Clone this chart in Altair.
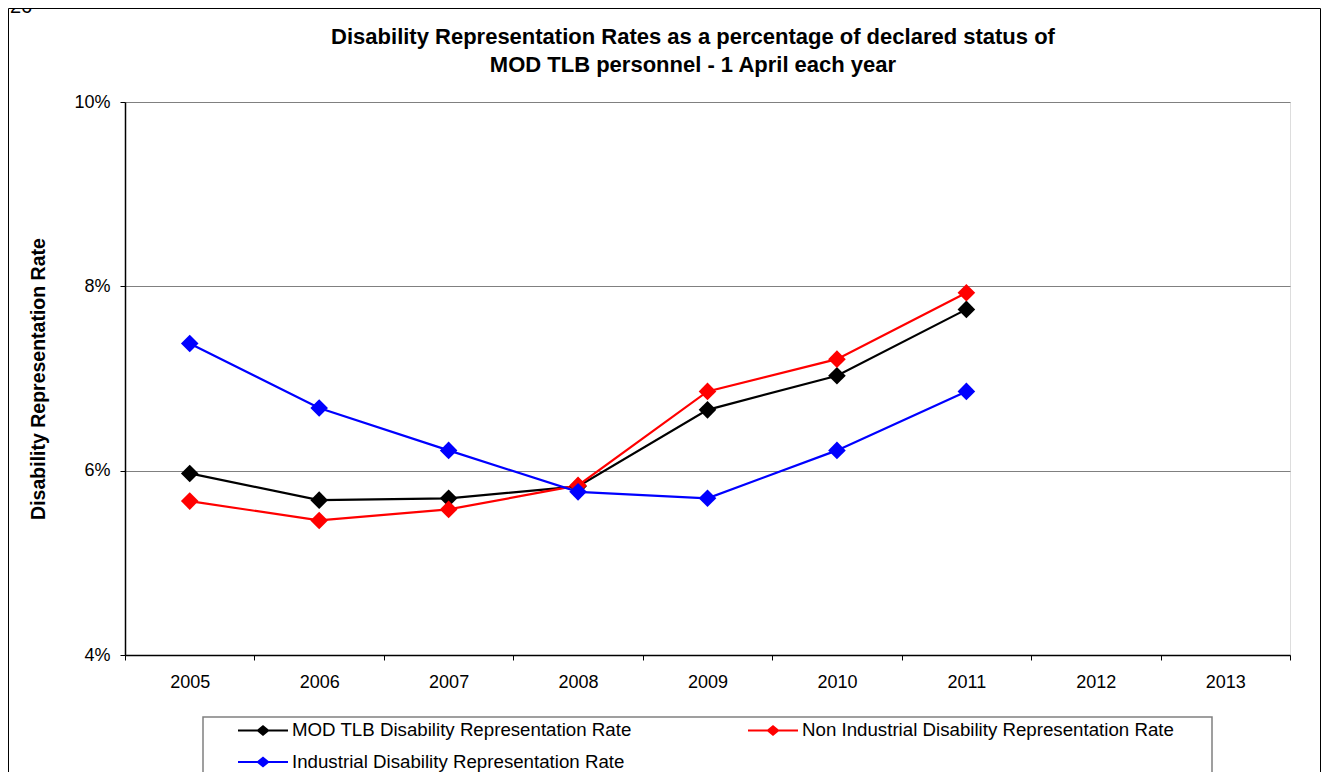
import altair as alt
import pandas as pd

years = ["2005", "2006", "2007", "2008", "2009", "2010", "2011", "2012", "2013"]
series_names = [
    "MOD TLB Disability Representation Rate",
    "Non Industrial Disability Representation Rate",
    "Industrial Disability Representation Rate",
]
mod_tlb = [5.97, 5.68, 5.70, 5.83, 6.66, 7.03, 7.75]
non_industrial = [5.67, 5.46, 5.58, 5.84, 6.86, 7.21, 7.93]
industrial = [7.38, 6.68, 6.22, 5.77, 5.70, 6.22, 6.86]
colors = ["#000000", "#FF0000", "#0000FF"]
y_ticks = [0.04, 0.06, 0.08, 0.10]
title_lines = [
    "Disability Representation Rates as a percentage of declared status of",
    "MOD TLB personnel - 1 April each year",
]
y_title = "Disability Representation Rate"
page_number = "26"

rows = []
for name, vals in zip(series_names, [mod_tlb, non_industrial, industrial]):
    for i, v in enumerate(vals):
        rows.append({"year": years[i], "series": name, "rate": v / 100.0})
df = pd.DataFrame(rows)

FONT = "Liberation Sans"
W, H = 1165, 553

# legend symbol: a short line with a filled diamond in the middle (wider than its nominal box)
LEG_PATH = "M-2,-0.08H-0.44L0,-0.44L0.44,-0.08H2V0.08H0.44L0,0.44L-0.44,0.08H-2Z"

x_enc = alt.X(
    "year:N",
    scale=alt.Scale(domain=years, paddingInner=0, paddingOuter=0),
    axis=alt.Axis(
        title=None, labelAngle=0, tickBand="extent", grid=False,
        labelFont=FONT, labelFontSize=18, labelColor="black", labelPadding=13,
        tickColor="black", tickSize=5, domainColor="black", domainWidth=1.5,
    ),
)
y_enc = alt.Y(
    "rate:Q",
    scale=alt.Scale(domain=[0.04, 0.10], nice=False, zero=False),
    axis=alt.Axis(
        values=y_ticks, format=".0%", title=y_title,
        titleFont=FONT, titleFontSize=19.5, titleFontWeight="bold", titleColor="black",
        titleAngle=-90, titleAlign="center", titleBaseline="middle",
        titleX=-87, titleY=H / 2,
        labelFont=FONT, labelFontSize=18, labelColor="black", labelPadding=10,
        tickColor="black", tickSize=5, domainColor="black", domainWidth=1.5,
        grid=True, gridColor="#808080", gridWidth=1,
    ),
)

lines = alt.Chart(df).mark_line(strokeWidth=2.2).encode(
    x=x_enc,
    y=y_enc,
    stroke=alt.Stroke("series:N", sort=series_names, scale=alt.Scale(range=colors), legend=None),
)

points = alt.Chart(df).mark_point(shape="diamond", filled=True, size=310, opacity=1).encode(
    x=x_enc,
    y=y_enc,
    fill=alt.Fill(
        "series:N",
        scale=alt.Scale(domain=series_names, range=colors),
        legend=alt.Legend(
            title=None, orient="none", legendX=125.5, legendY=615.5,
            columns=2, direction="horizontal",
            symbolType=LEG_PATH, symbolSize=625, symbolStrokeWidth=0, symbolOpacity=1,
            labelFont=FONT, labelFontSize=18.7, labelColor="black", labelOffset=16.5,
            labelLimit=600, columnPadding=115, rowPadding=9, padding=0,
        ),
    ),
)

one = pd.DataFrame({"k": [0]})
legend_box = alt.Chart(one).mark_rect(fillOpacity=0, stroke="#808080", strokeWidth=1.5).encode(
    x=alt.value(78), x2=alt.value(1087), y=alt.value(615), y2=alt.value(676)
)
frame = alt.Chart(one).mark_rect(fillOpacity=0, stroke="black", strokeWidth=1).encode(
    x=alt.value(-116.5), x2=alt.value(1195.5), y=alt.value(-93.5), y2=alt.value(700)
)
page_txt = alt.Chart(one).mark_text(
    text=page_number, font=FONT, fontSize=20, align="left", baseline="alphabetic", color="black"
).encode(x=alt.value(-115), y=alt.value(-89))
title_txt = alt.Chart(one).mark_text(
    text=title_lines, font=FONT, fontSize=22, fontWeight="bold", lineHeight=28,
    align="center", baseline="middle", color="black"
).encode(x=alt.value(568), y=alt.value(-65))

chart = alt.layer(lines, points, frame, legend_box, page_txt, title_txt).properties(
    width=W,
    height=H,
    autosize=alt.AutoSizeParams(type="none"),
    padding={"left": 117, "top": 94, "right": 31, "bottom": 117},
).configure_view(
    stroke="#808080", strokeWidth=1
).configure(background="white")

chart.save("out.html", embed_options={"renderer": "svg", "actions": False})
